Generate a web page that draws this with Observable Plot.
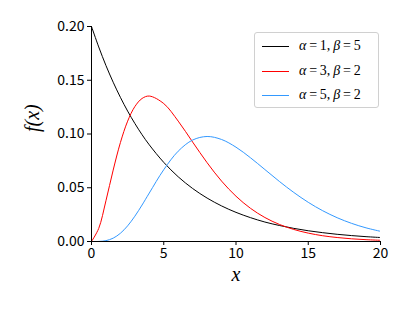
<!DOCTYPE html>
<html><head><meta charset="utf-8">
<script src="https://cdn.jsdelivr.net/npm/d3@7"></script>
<script src="https://cdn.jsdelivr.net/npm/@observablehq/plot@0.6"></script>
<style>
body{margin:0;background:#fff;}
#wrap{position:relative;width:409px;height:310px;}
#legend{position:absolute;left:254px;top:32px;width:125px;height:76px;border:1px solid #d0d0d0;border-radius:3px;background:rgba(255,255,255,0.8);box-sizing:border-box;}
.row{position:absolute;left:0;height:20px;width:100%;}
.sw{position:absolute;left:7px;top:10px;width:27px;height:0;border-top:1px solid;}
.tx{position:absolute;left:44px;top:1px;font-family:"Times New Roman","Liberation Serif","DejaVu Serif",serif;font-size:14px;white-space:nowrap;line-height:18px;}
.tx i{font-style:italic;}
</style></head>
<body><div id="wrap"></div>
<script>
const xs = [0,0.5,1,1.5,2,2.5,3,3.5,4,5,6,7,8,9,10,11,12,13,14,15,16,17,18,19,20];
const s1 = [0.2000,0.18097,0.1637,0.14816,0.1341,0.12131,0.1098,0.09932,0.0899,0.0736,0.0602,0.0493,0.0404,0.0331,0.0271,0.0222,0.0181,0.0149,0.0122,0.0100,0.0082,0.0067,0.0055,0.0045,0.0037];
const s2 = [0,0.01217,0.0379,0.06643,0.0920,0.11192,0.1255,0.13305,0.1353,0.1283,0.1120,0.0925,0.0733,0.0562,0.0421,0.0309,0.0223,0.0159,0.0112,0.0078,0.00536,0.0037,0.0025,0.0017,0.00114];
const s3 = [0,0.0000634,0.00079,0.00311,0.00766,0.01457,0.02353,0.03395,0.04511,0.0668,0.08402,0.0944,0.09768,0.0949,0.08773,0.07791,0.06693,0.05589,0.04562,0.03645,0.02863,0.02213,0.01687,0.0127,0.00946];
const alphas = [1,3,5];
const betas = [5,2,2];
const names = ["α=1, β=5","α=3, β=2","α=5, β=2"];
const colors = ["#000000","#ff0000","#3399ff"];
const xTicks = [0,5,10,15,20];
const yTicks = [0,0.05,0.10,0.15,0.20];
const xLabel = "x";
const yLabel = "f(x)";

const data = [];
[s1,s2,s3].forEach((s,k)=>s.forEach((v,i)=>data.push({x:xs[i],y:v,s:names[k]})));
const serif = '"Times New Roman","Liberation Serif","DejaVu Serif",serif';

const plot = Plot.plot({
  width:409,height:310,
  marginLeft:91,marginRight:29,marginTop:26,marginBottom:69,
  style:{fontFamily:'"Noto Sans CJK JP", sans-serif',fontSize:"14px",color:"#000",background:"transparent"},
  x:{domain:[0,20],ticks:xTicks,label:null,tickSize:4,tickPadding:3},
  y:{domain:[0,0.2],ticks:yTicks,tickFormat:d3.format(".2f"),label:null,tickSize:4,tickPadding:3},
  color:{domain:names,range:colors},
  marks:[
    Plot.line(data,{x:"x",y:"y",z:"s",stroke:"s",strokeWidth:1,curve:"catmull-rom",clip:true}),
    Plot.ruleX([0],{stroke:"#000"}),
    Plot.ruleY([0],{stroke:"#000"}),
    Plot.text([xLabel],{frameAnchor:"bottom",dy:39,fontFamily:serif,fontStyle:"italic",fontSize:20,text:d=>d}),
    Plot.text([yLabel],{frameAnchor:"left",dx:-59,dy:-2,rotate:-90,fontFamily:serif,fontStyle:"italic",fontSize:20,text:d=>d})
  ]
});
const wrap=document.getElementById("wrap");
wrap.appendChild(plot);
const lg=document.createElement("div");lg.id="legend";
names.forEach((n,k)=>{
  const r=document.createElement("div");r.className="row";r.style.top=(3+k*24.5)+"px";
  const sw=document.createElement("div");sw.className="sw";sw.style.borderColor=colors[k];
  const t=document.createElement("div");t.className="tx";
  t.innerHTML=`<i>α</i>\u2009=\u2009${alphas[k]},\u2009<i>β</i>\u2009=\u2009${betas[k]}`;
  r.appendChild(sw);r.appendChild(t);lg.appendChild(r);
});
wrap.appendChild(lg);
</script></body></html>
